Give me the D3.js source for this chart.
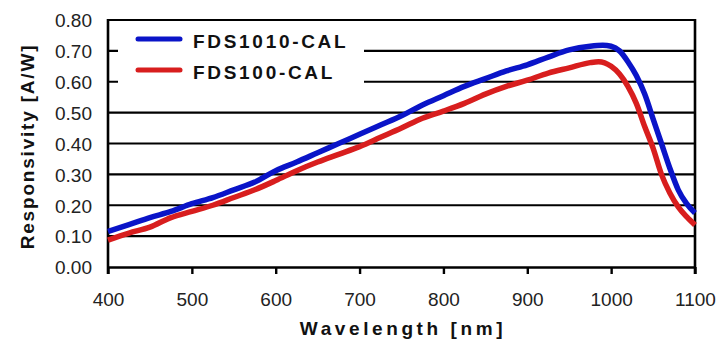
<!DOCTYPE html>
<html>
<head>
<meta charset="utf-8">
<script src="https://cdn.jsdelivr.net/npm/d3@7/dist/d3.min.js"></script>
<style>
  html, body { margin: 0; padding: 0; background: #ffffff; }
  svg { display: block; }
  .tick-label { font-family: "Liberation Sans", Arial, sans-serif; font-size: 19px; fill: #222; }
  .axis-title { font-family: "Liberation Sans", Arial, sans-serif; font-size: 19px; font-weight: bold; fill: #111; }
  .legend-text { font-family: "Liberation Sans", Arial, sans-serif; font-size: 19px; font-weight: bold; fill: #111; letter-spacing: 2.7px; }
</style>
</head>
<body>
<div id="chart"></div>
<script>
// Wavelength samples (nm) for each photodiode curve
const wavelengthsFDS1010 = [400, 425, 450, 475, 500, 525, 550, 575, 600, 625, 650, 675, 700, 725, 750, 775, 800, 825, 850, 875, 900, 925, 950, 975, 990, 1000, 1010, 1020, 1030, 1040, 1050, 1060, 1070, 1080, 1090, 1100];
const responsivityFDS1010 = [0.115, 0.137, 0.160, 0.180, 0.205, 0.225, 0.250, 0.275, 0.312, 0.340, 0.370, 0.400, 0.430, 0.460, 0.490, 0.525, 0.555, 0.585, 0.610, 0.635, 0.655, 0.680, 0.703, 0.715, 0.718, 0.715, 0.700, 0.665, 0.620, 0.560, 0.480, 0.400, 0.320, 0.250, 0.205, 0.175];

const wavelengthsFDS100 = [400, 425, 450, 475, 500, 525, 550, 575, 600, 625, 650, 675, 700, 725, 750, 775, 800, 825, 850, 875, 900, 925, 950, 975, 985, 1000, 1010, 1020, 1030, 1040, 1050, 1060, 1070, 1080, 1090, 1100];
const responsivityFDS100 = [0.087, 0.110, 0.129, 0.160, 0.180, 0.200, 0.225, 0.250, 0.280, 0.312, 0.340, 0.365, 0.390, 0.420, 0.450, 0.482, 0.505, 0.530, 0.560, 0.585, 0.605, 0.628, 0.645, 0.662, 0.665, 0.650, 0.625, 0.585, 0.530, 0.455, 0.385, 0.300, 0.240, 0.195, 0.163, 0.136];

const seriesNames = ["FDS1010-CAL", "FDS100-CAL"];
const seriesColors = ["#0a14c8", "#d81e1e"];

const xTicks = [400, 500, 600, 700, 800, 900, 1000, 1100];
const yTicks = [0, 0.1, 0.2, 0.3, 0.4, 0.5, 0.6, 0.7, 0.8];

const width = 719, height = 343;
const margin = { left: 108, right: 24, top: 20, bottom: 76 };

const svg = d3.select("#chart").append("svg")
  .attr("width", width).attr("height", height);

const x = d3.scaleLinear().domain([400, 1100]).range([margin.left, width - margin.right]);
const y = d3.scaleLinear().domain([0, 0.8]).range([height - margin.bottom, margin.top]);

const x0 = x.range()[0], x1 = x.range()[1];
const yBottom = y(0), yTop = y(0.8);

// Horizontal grid lines
svg.append("g").selectAll("line").data(yTicks.filter(d => d > 0)).join("line")
  .attr("x1", x0).attr("x2", x1)
  .attr("y1", d => y(d)).attr("y2", d => y(d))
  .attr("stroke", "#000").attr("stroke-width", 2.2);

// Bottom axis with downward ticks
const xAxis = d3.axisBottom(x).tickValues(xTicks).tickSize(7).tickSizeOuter(0).tickFormat(d3.format("d"));
const gx = svg.append("g").attr("transform", `translate(0,${yBottom})`).call(xAxis);
gx.select(".domain").attr("stroke", "#000").attr("stroke-width", 2.6);
gx.selectAll(".tick line").attr("stroke", "#000").attr("stroke-width", 2.4);
gx.selectAll(".tick text").attr("class", "tick-label").attr("dy", "1.55em");

// Left axis: labels only, the line is drawn as the frame
const yAxis = d3.axisLeft(y).tickValues(yTicks).tickSize(0).tickFormat(d3.format(".2f"));
const gy = svg.append("g").attr("transform", `translate(${x0},0)`).call(yAxis);
gy.select(".domain").remove();
gy.selectAll(".tick text").attr("class", "tick-label").attr("x", -16).attr("dy", "0.36em");

// Left and right frame lines
svg.append("line").attr("x1", x0).attr("x2", x0).attr("y1", yTop - 1).attr("y2", yBottom + 7)
  .attr("stroke", "#000").attr("stroke-width", 2.6);
svg.append("line").attr("x1", x1).attr("x2", x1).attr("y1", yTop - 1).attr("y2", yBottom + 7)
  .attr("stroke", "#000").attr("stroke-width", 2.6);

// Curves
const line = d3.line().x(d => x(d[0])).y(d => y(d[1])).curve(d3.curveMonotoneX);
const seriesData = [
  d3.zip(wavelengthsFDS1010, responsivityFDS1010),
  d3.zip(wavelengthsFDS100, responsivityFDS100)
];
svg.append("g").selectAll("path").data(seriesData).join("path")
  .attr("d", line)
  .attr("fill", "none")
  .attr("stroke", (d, i) => seriesColors[i])
  .attr("stroke-width", 5.5)
  .attr("stroke-linejoin", "round");

// Legend with white background over the grid
const legend = svg.append("g");
legend.append("rect")
  .attr("x", x0 + 10).attr("y", yTop + 5)
  .attr("width", 246).attr("height", y(0.5) - yTop - 14)
  .attr("fill", "#fff");
const legendRows = seriesNames.map((name, i) => ({ name, color: seriesColors[i], yPos: 39 + i * 31 }));
legend.selectAll("line.key").data(legendRows).join("line")
  .attr("class", "key")
  .attr("x1", 138).attr("x2", 180)
  .attr("y1", d => d.yPos).attr("y2", d => d.yPos)
  .attr("stroke", d => d.color).attr("stroke-width", 5).attr("stroke-linecap", "round");
legend.selectAll("text").data(legendRows).join("text")
  .attr("class", "legend-text")
  .attr("x", 193).attr("y", d => d.yPos + 8.5)
  .text(d => d.name);

// Axis titles
svg.append("text").attr("class", "axis-title")
  .attr("transform", `translate(34,${(yTop + yBottom) / 2 + 3}) rotate(-90)`)
  .attr("text-anchor", "middle")
  .style("letter-spacing", "1.8px")
  .text("Responsivity [A/W]");
svg.append("text").attr("class", "axis-title")
  .attr("x", 403).attr("y", 335)
  .attr("text-anchor", "middle")
  .style("letter-spacing", "3.6px")
  .text("Wavelength [nm]");
</script>
</body>
</html>
